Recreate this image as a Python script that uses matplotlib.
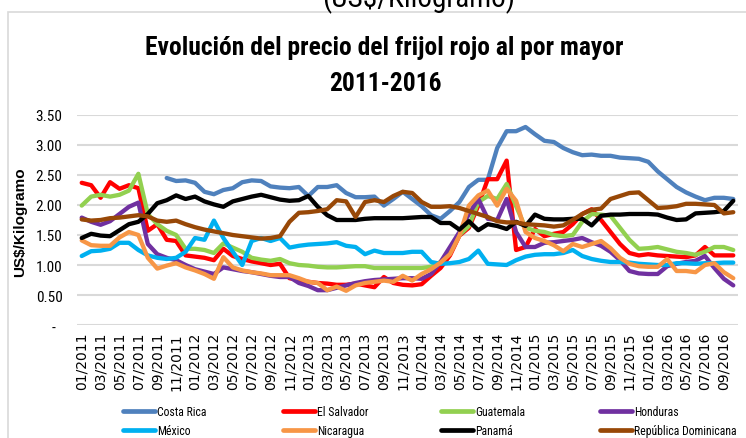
import numpy as np
import pandas as pd
import matplotlib
matplotlib.use("Agg")
import matplotlib.pyplot as plt
from matplotlib import font_manager as fm
from matplotlib.patches import Rectangle

# ── 数据 (US$/Kilogramo, mensual 01/2011 - 10/2016) ─────────────────────────
months = pd.date_range("2011-01-01", periods=70, freq="MS").strftime("%m/%Y").tolist()
nan = np.nan

costa_rica = [nan, nan, nan, nan, nan, nan, nan, nan, nan, 2.45,
              2.40, 2.41, 2.37, 2.22, 2.18, 2.25, 2.28, 2.38, 2.41, 2.40,
              2.31, 2.29, 2.28, 2.30, 2.15, 2.30, 2.30, 2.33, 2.20, 2.13,
              2.13, 2.14, 1.99, 2.10, 2.22, 2.10, 1.98, 1.83, 1.77, 1.90,
              2.05, 2.30, 2.42, 2.42, 2.95, 3.23, 3.23, 3.30, 3.18, 3.07,
              3.05, 2.95, 2.88, 2.83, 2.84, 2.82, 2.82, 2.79, 2.78, 2.77,
              2.72, 2.56, 2.43, 2.30, 2.21, 2.14, 2.08, 2.12, 2.12, 2.10]
el_salvador = [2.37, 2.33, 2.12, 2.38, 2.27, 2.33, 2.28, 1.57, 1.68, 1.42,
               1.40, 1.16, 1.14, 1.12, 1.08, 1.27, 1.15, 1.10, 1.06, 1.03,
               1.00, 1.02, 0.78, 0.75, 0.72, 0.70, 0.69, 0.67, 0.67, 0.69,
               0.66, 0.63, 0.80, 0.70, 0.67, 0.66, 0.68, 0.82, 0.95, 1.16,
               1.49, 1.62, 1.99, 2.43, 2.43, 2.74, 1.25, 1.30, 1.60, 1.48,
               1.52, 1.55, 1.68, 1.85, 1.93, 1.75, 1.55, 1.35, 1.20, 1.16,
               1.18, 1.16, 1.15, 1.14, 1.13, 1.16, 1.30, 1.16, 1.16, 1.16]
guatemala = [1.99, 2.14, 2.17, 2.14, 2.17, 2.24, 2.52, 1.85, 1.68, 1.57,
             1.50, 1.27, 1.27, 1.25, 1.20, 1.36, 1.29, 1.22, 1.12, 1.09,
             1.07, 1.10, 1.03, 1.00, 0.99, 0.97, 0.96, 0.96, 0.97, 0.98,
             0.98, 0.95, 0.95, 0.95, 0.95, 0.95, 0.95, 0.97, 1.05, 1.22,
             1.50, 1.65, 2.05, 2.15, 2.10, 2.35, 1.98, 1.62, 1.57, 1.55,
             1.50, 1.48, 1.50, 1.72, 1.85, 1.84, 1.82, 1.62, 1.42, 1.27,
             1.28, 1.30, 1.26, 1.22, 1.20, 1.17, 1.22, 1.30, 1.30, 1.25]
honduras = [1.79, 1.72, 1.67, 1.73, 1.85, 1.97, 2.04, 1.35, 1.18, 1.12,
            1.08, 1.00, 0.93, 0.89, 0.85, 0.96, 0.93, 0.90, 0.88, 0.85,
            0.82, 0.80, 0.80, 0.70, 0.65, 0.58, 0.58, 0.62, 0.66, 0.70,
            0.73, 0.75, 0.76, 0.77, 0.78, 0.78, 0.77, 0.85, 1.05, 1.30,
            1.55, 1.85, 2.10, 1.77, 1.75, 2.10, 1.55, 1.30, 1.30, 1.37,
            1.38, 1.40, 1.42, 1.45, 1.38, 1.32, 1.22, 1.08, 0.90, 0.86,
            0.85, 0.85, 0.98, 1.02, 1.05, 1.07, 1.15, 0.95, 0.77, 0.66]
mexico = [1.15, 1.23, 1.24, 1.27, 1.37, 1.37, 1.25, 1.16, 1.12, 1.10,
          1.12, 1.22, 1.45, 1.42, 1.74, 1.45, 1.22, 1.00, 1.40, 1.45,
          1.40, 1.45, 1.29, 1.32, 1.34, 1.35, 1.36, 1.38, 1.32, 1.30,
          1.18, 1.24, 1.20, 1.20, 1.20, 1.22, 1.22, 1.05, 1.02, 1.03,
          1.05, 1.10, 1.24, 1.02, 1.01, 1.00, 1.08, 1.14, 1.17, 1.18,
          1.18, 1.20, 1.25, 1.15, 1.10, 1.07, 1.05, 1.05, 1.04, 1.02,
          1.01, 1.00, 1.00, 1.03, 1.03, 1.02, 1.03, 1.03, 1.04, 1.04]
nicaragua = [1.41, 1.33, 1.32, 1.32, 1.46, 1.55, 1.50, 1.12, 0.94, 0.99,
             1.03, 0.96, 0.91, 0.85, 0.77, 1.13, 0.96, 0.91, 0.88, 0.86,
             0.83, 0.83, 0.83, 0.78, 0.72, 0.70, 0.58, 0.64, 0.57, 0.66,
             0.70, 0.72, 0.74, 0.72, 0.82, 0.74, 0.85, 0.93, 1.04, 1.18,
             1.49, 1.99, 2.16, 2.24, 1.99, 2.27, 2.07, 1.55, 1.45, 1.40,
             1.33, 1.23, 1.35, 1.30, 1.35, 1.40, 1.28, 1.12, 1.02, 0.98,
             0.97, 0.97, 1.10, 0.90, 0.90, 0.88, 1.00, 1.03, 0.88, 0.78]
panama = [1.45, 1.52, 1.49, 1.48, 1.58, 1.68, 1.72, 1.85, 2.03, 2.08,
          2.16, 2.10, 2.14, 2.06, 2.01, 1.97, 2.06, 2.10, 2.14, 2.17,
          2.13, 2.09, 2.07, 2.08, 2.15, 1.97, 1.83, 1.75, 1.75, 1.75,
          1.77, 1.78, 1.78, 1.78, 1.78, 1.79, 1.80, 1.80, 1.70, 1.70,
          1.59, 1.73, 1.58, 1.68, 1.65, 1.60, 1.72, 1.65, 1.84, 1.77,
          1.76, 1.76, 1.77, 1.77, 1.66, 1.82, 1.84, 1.84, 1.85, 1.85,
          1.85, 1.84, 1.79, 1.75, 1.76, 1.86, 1.87, 1.88, 1.90, 2.07]
rep_dominicana = [1.76, 1.74, 1.75, 1.78, 1.79, 1.81, 1.83, 1.81, 1.74, 1.72,
                  1.74, 1.68, 1.63, 1.59, 1.56, 1.53, 1.50, 1.48, 1.46, 1.44,
                  1.45, 1.48, 1.72, 1.87, 1.88, 1.90, 1.93, 2.08, 2.06, 1.80,
                  2.05, 2.08, 2.05, 2.15, 2.22, 2.20, 2.05, 1.97, 1.97, 1.98,
                  1.95, 1.90, 1.85, 1.80, 1.73, 1.71, 1.71, 1.68, 1.67, 1.66,
                  1.64, 1.66, 1.75, 1.85, 1.92, 1.94, 2.10, 2.15, 2.20, 2.21,
                  2.08, 1.95, 1.96, 1.98, 2.02, 2.02, 2.01, 2.00, 1.86, 1.88]

countries = ["Costa Rica", "El Salvador", "Guatemala", "Honduras",
             "México", "Nicaragua", "Panamá", "República Dominicana"]
series = [costa_rica, el_salvador, guatemala, honduras,
          mexico, nicaragua, panama, rep_dominicana]
colors = ["#4F81BD", "#FF0000", "#92D050", "#7030A0",
          "#00B0F0", "#F79646", "#000000", "#984807"]
yticks = [0, 0.5, 1.0, 1.5, 2.0, 2.5, 3.0, 3.5]


# ── 字体：尽量找窄体 ────────────────────────────────────────────────────────
def pick_font(cands, fallback):
    names = {f.name for f in fm.fontManager.ttflist}
    for c in cands:
        if c in names:
            return c
    return fallback


NARROW = pick_font(["Liberation Sans Narrow", "Roboto Condensed",
                    "Open Sans Condensed"], "Liberation Sans")

W, H = 746, 439
fig = plt.figure(figsize=(W / 100, H / 100), dpi=100, facecolor="white")

# 外框
fig.patches.append(Rectangle((8 / W, -0.1), 1.2, 1 - 13 / H + 0.1,
                             transform=fig.transFigure, fill=False,
                             edgecolor="#D9D9D9", linewidth=1.2))

# 上方被裁掉一半的单位说明
fig.text(419 / W, 1 - 6 / H, "(US$/Kilogramo)", family=NARROW,
         fontsize=21, ha="center", va="baseline", color="#000000")

fig.text(384 / W, 1 - 55 / H, "Evolución del precio del frijol rojo al por mayor",
         family=NARROW, fontweight="bold", fontsize=18.4,
         ha="center", va="baseline", color="#000000")
fig.text(385 / W, 1 - 91 / H, "2011-2016", family=NARROW, fontweight="bold",
         fontsize=18.4, ha="center", va="baseline", color="#000000")

ax = fig.add_axes([77 / W, 1 - 326 / H, (738 - 77) / W, (326 - 116) / H])
x = np.arange(len(months))
handles = []
for name, vals, col in zip(countries, series, colors):
    ln, = ax.plot(x, vals, color=col, lw=3.1, solid_joinstyle="round",
                  solid_capstyle="round", label=name)
    handles.append(ln)

ax.set_xlim(-0.5, len(months) - 0.5)
ax.set_ylim(0, 3.5)
ax.set_yticks(yticks)
ax.set_yticklabels(["-  " if v == 0 else f"{v:.2f}" for v in yticks],
                   family=NARROW, fontsize=11)
ax.set_xticks(x[::2])
ax.set_xticklabels(months[::2], rotation=90, family="DejaVu Sans", fontsize=10)
ax.tick_params(length=0)
ax.tick_params(axis="y", pad=10.5)
ax.tick_params(axis="x", pad=5)
ax.grid(axis="y", color="#D9D9D9", lw=1.5)
ax.set_axisbelow(True)
for s in ax.spines.values():
    s.set_visible(False)

fig.text(20 / W, 1 - 222 / H, "US$/Kilogramo", rotation=90, family="Liberation Sans",
         fontweight="bold", fontsize=11, ha="center", va="center")

# 图例：四列，每列两项
col_x = [123, 283, 441, 600]
for c in range(4):
    hs = [handles[c], handles[c + 4]]
    leg = fig.legend(hs, [h.get_label() for h in hs], loc="upper left",
                     bbox_to_anchor=(col_x[c] / W, 1 - 406 / H),
                     frameon=False, borderpad=0, borderaxespad=0,
                     handlelength=2.7, handletextpad=0.2, labelspacing=0.55,
                     prop={"family": NARROW, "size": 8.5})
    for lh in leg.get_lines():
        lh.set_linewidth(3.4)

fig.savefig("out.png", dpi=100, facecolor="white")
